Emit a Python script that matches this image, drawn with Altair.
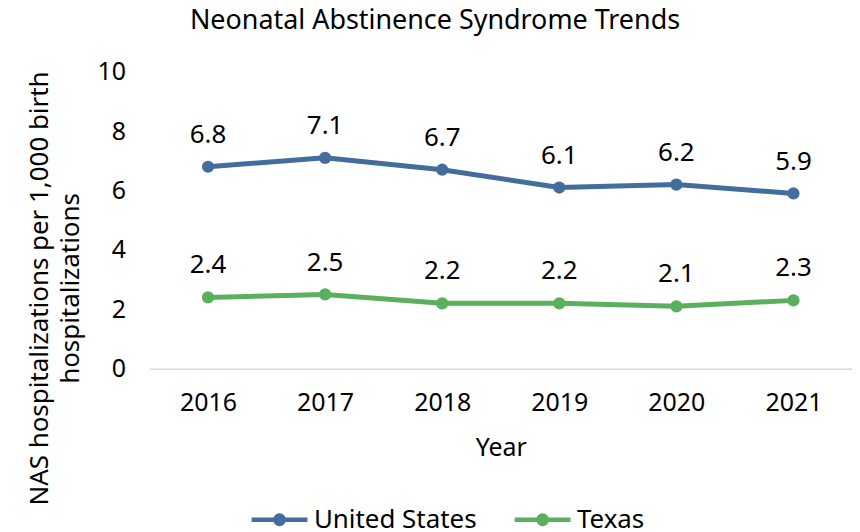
import altair as alt
import pandas as pd

years = ["2016", "2017", "2018", "2019", "2020", "2021"]
us_values = [6.8, 7.1, 6.7, 6.1, 6.2, 5.9]
tx_values = [2.4, 2.5, 2.2, 2.2, 2.1, 2.3]
series = ["United States", "Texas"]
colors = ["#426D9C", "#5BB05E"]

rows = []
for y, v in zip(years, us_values):
    rows.append({"Year": y, "Series": series[0], "Value": v})
for y, v in zip(years, tx_values):
    rows.append({"Year": y, "Series": series[1], "Value": v})
df = pd.DataFrame(rows)

FONT = "Noto Sans"

# legend symbol: line with filled dot (concentric circles stroked)
r1, r2 = 0.15, 0.07
sym = (f"M-1,0L1,0"
       f"M{r1},0A{r1},{r1},0,1,1,{-r1},0A{r1},{r1},0,1,1,{r1},0"
       f"M{r2},0A{r2},{r2},0,1,1,{-r2},0A{r2},{r2},0,1,1,{r2},0")

x = alt.X("Year:O", scale=alt.Scale(domain=years, paddingOuter=0.5, paddingInner=1),
          axis=alt.Axis(title="Year", labelAngle=0, ticks=False, domainColor="#d9d9d9",
                        domainWidth=1.5, labelPadding=22, titlePadding=20,
                        labelFontSize=25, titleFontSize=25, labelFont=FONT, titleFont=FONT,
                        labelColor="#000", titleColor="#000", titleFontWeight="normal"))
y = alt.Y("Value:Q", scale=alt.Scale(domain=[0, 10]),
          axis=alt.Axis(title=["NAS hospitalizations per 1,000 birth", "hospitalizations"],
                        values=[0, 2, 4, 6, 8, 10], grid=False, domain=False, ticks=False,
                        labelPadding=24, labelFontSize=25, titleFontSize=26,
                        labelFont=FONT, titleFont=FONT, labelColor="#000", titleColor="#000",
                        titleFontWeight="normal", titleX=-97, titleY=217,
                        titleLineHeight=31))
color = alt.Color("Series:N", scale=alt.Scale(domain=series, range=colors),
                  legend=alt.Legend(title=None, orient="none", direction="horizontal",
                                    legendX=100, legendY=419, symbolType=sym, symbolSize=3136,
                                    symbolStrokeWidth=4.5, labelFontSize=26, labelFont=FONT,
                                    labelColor="#000", columnPadding=28, labelOffset=4,
                                    labelLimit=400))

base = alt.Chart(df).encode(x=x, y=y, color=color)
lines = base.mark_line(strokeWidth=5)
points = base.mark_point(filled=True, size=150, opacity=1)
labels = base.mark_text(dy=-32, fontSize=26, font=FONT, color="#000").encode(
    text=alt.Text("Value:Q", format=".1f"), color=alt.value("#000"))

chart = (lines + points + labels).properties(
    width=705, height=298,
    title=alt.TitleParams("Neonatal Abstinence Syndrome Trends", fontSize=27, font=FONT,
                          fontWeight="normal", color="#000", anchor="middle", dx=-66, offset=25),
    autosize=alt.AutoSizeParams(type="none"),
    padding={"left": 142, "top": 63, "right": 0, "bottom": 175},
).configure_view(stroke=None)

chart.save("out.html", embed_options={"renderer": "svg", "actions": False})
